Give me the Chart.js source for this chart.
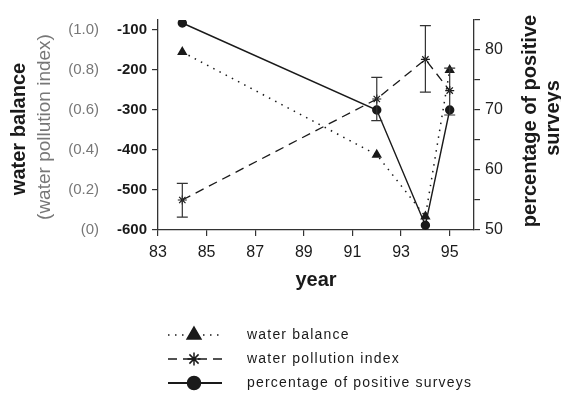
<!DOCTYPE html>
<html>
<head>
<meta charset="utf-8">
<script src="https://cdn.jsdelivr.net/npm/chart.js@4.4.1/dist/chart.umd.min.js"></script>
<style>
  html, body { margin: 0; padding: 0; background: #fff; }
  #wrap { width: 561px; height: 394px; }
</style>
</head>
<body>
<div id="wrap"><canvas id="c" width="561" height="394"></canvas></div>
<script>
// data
const years           = [84, 92, 94, 95];
const waterBalance    = [-155, -412, -566, -200];
const pollutionIndex  = [0.15, 0.655, 0.853, 0.697];
const pollutionLow    = [0.064, 0.547, 0.689, 0.575];
const pollutionHigh   = [0.233, 0.763, 1.022, 0.809];
const positiveSurveys = [84.5, 70, 50.8, 70];

// tick labels
const yearTicks      = [83, 85, 87, 89, 91, 93, 95];
const balanceTicks   = [-600, -500, -400, -300, -200, -100];
const indexTicks     = [0, 0.2, 0.4, 0.6, 0.8, 1.0];
const indexLabels    = ['(0)', '(0.2)', '(0.4)', '(0.6)', '(0.8)', '(1.0)'];
const surveyTicks    = [50, 55, 60, 65, 70, 75, 80, 85];

const FONT = "'Liberation Sans', Arial, Helvetica, sans-serif";
const INK = '#1a1a1a';
const AXIS = '#333';

/* ───────── error bars for the pollution index ───────── */
const errorBars = {
  id: 'errorBars',
  afterDatasetsDraw(chart) {
    const {ctx} = chart;
    const x = chart.scales.x, y = chart.scales.yIdx;
    ctx.save();
    ctx.strokeStyle = '#333';
    ctx.lineWidth = 1.2;
    years.forEach((yr, i) => {
      const px = x.getPixelForValue(yr);
      const lo = y.getPixelForValue(pollutionLow[i]);
      const hi = y.getPixelForValue(pollutionHigh[i]);
      ctx.beginPath();
      ctx.moveTo(px, lo); ctx.lineTo(px, hi);
      ctx.moveTo(px - 5.5, lo); ctx.lineTo(px + 5.5, lo);
      ctx.moveTo(px - 5.5, hi); ctx.lineTo(px + 5.5, hi);
      ctx.stroke();
    });
    ctx.restore();
  }
};

/* ───────── rotated axis titles + legend ───────── */
function vText(ctx, txt, x, y, font, color) {
  ctx.save();
  ctx.translate(x, y);
  ctx.rotate(-Math.PI / 2);
  ctx.font = font;
  ctx.fillStyle = color;
  ctx.textAlign = 'center';
  ctx.textBaseline = 'middle';
  ctx.fillText(txt, 0, 0);
  ctx.restore();
}

const extras = {
  id: 'extras',
  afterDraw(chart) {
    const {ctx} = chart;
    vText(ctx, 'water balance', 19, 129, 'bold 20px ' + FONT, INK);
    vText(ctx, '(water pollution index)', 45, 127, '19px ' + FONT, '#777');
    vText(ctx, 'percentage of positive', 530, 121, 'bold 20px ' + FONT, INK);
    vText(ctx, 'surveys', 553, 118, 'bold 20px ' + FONT, INK);

    // legend
    const rows = [335, 359, 383];
    const sizes = [8, 6.5, 6.5];
    chart.data.datasets.forEach((ds, i) => {
      const ly = rows[i];
      ctx.save();
      ctx.strokeStyle = ds.borderColor;
      ctx.lineWidth = i === 2 ? 2 : 1.5;
      ctx.setLineDash(ds.borderDash || []);
      ctx.beginPath();
      ctx.moveTo(168, ly); ctx.lineTo(222, ly);
      ctx.stroke();
      ctx.setLineDash([]);
      const opts = {pointStyle: ds.pointStyle, radius: sizes[i], rotation: 0, borderWidth: 1.5};
      ctx.fillStyle = ds.pointBackgroundColor;
      ctx.strokeStyle = ds.pointBorderColor;
      ctx.lineWidth = 1.5;
      if (Chart.helpers && Chart.helpers.drawPoint) {
        Chart.helpers.drawPoint(ctx, opts, 194, ly);
      }
      ctx.font = '14px ' + FONT;
      ctx.letterSpacing = '1.2px';
      ctx.fillStyle = INK;
      ctx.textAlign = 'left';
      ctx.textBaseline = 'middle';
      ctx.fillText(ds.label, 247, ly);
      ctx.restore();
    });
  }
};

function fixedTicks(values) {
  return scale => { scale.ticks = values.map(v => ({value: v})); };
}

new Chart(document.getElementById('c'), {
  type: 'line',
  data: {
    datasets: [
      {
        label: 'water balance',
        data: years.map((x, i) => ({x, y: waterBalance[i]})),
        yAxisID: 'y',
        borderColor: INK, borderWidth: 1.5, borderDash: [1.5, 5.5],
        pointStyle: 'triangle', pointRadius: 4.5,
        pointBackgroundColor: INK, pointBorderColor: INK
      },
      {
        label: 'water pollution index',
        data: years.map((x, i) => ({x, y: pollutionIndex[i]})),
        yAxisID: 'yIdx',
        borderColor: INK, borderWidth: 1.3, borderDash: [9, 6],
        pointStyle: 'star', pointRadius: 4.5, pointBorderWidth: 1.2,
        pointBackgroundColor: INK, pointBorderColor: INK
      },
      {
        label: 'percentage of positive surveys',
        data: years.map((x, i) => ({x, y: positiveSurveys[i]})),
        yAxisID: 'y2',
        borderColor: INK, borderWidth: 1.4,
        pointStyle: 'circle', pointRadius: 4,
        pointBackgroundColor: INK, pointBorderColor: INK
      }
    ]
  },
  options: {
    responsive: false,
    animation: false,
    layout: { padding: { top: 20, left: 0, right: 0, bottom: 0 } },
    plugins: { legend: { display: false }, tooltip: { enabled: false } },
    elements: { line: { tension: 0 } },
    scales: {
      x: {
        type: 'linear', min: 83, max: 96,
        afterBuildTicks: fixedTicks(yearTicks),
        afterFit: s => { s.height = 164; },
        grid: { drawOnChartArea: false, color: AXIS, tickLength: 6, lineWidth: 1.2 },
        border: { color: AXIS, width: 1.3 },
        ticks: { color: INK, font: { family: FONT, size: 16 }, padding: 7, maxRotation: 0 },
        title: { display: true, text: 'year', color: INK,
                 font: { family: FONT, size: 20, weight: 'bold' },
                 padding: { top: 0, bottom: 102 } }
      },
      y: {
        position: 'left', weight: 0,
        min: -600, max: -75,
        afterBuildTicks: fixedTicks(balanceTicks),
        afterFit: s => { s.width = 58; },
        grid: { drawOnChartArea: false, color: AXIS, tickLength: 6, lineWidth: 1.2 },
        border: { color: AXIS, width: 1.3 },
        ticks: { color: INK, font: { family: FONT, size: 15, weight: 'bold' }, padding: 5 }
      },
      yIdx: {
        position: 'left', weight: 1,
        min: 0, max: 1.05,
        afterBuildTicks: fixedTicks(indexTicks),
        afterFit: s => { s.width = 100; },
        grid: { display: false, drawTicks: false },
        border: { display: false },
        ticks: { color: '#777', font: { family: FONT, size: 15 }, padding: 1,
                 callback: (v, i) => indexLabels[i] }
      },
      y2: {
        position: 'right',
        min: 50, max: 85,
        afterBuildTicks: fixedTicks(surveyTicks),
        afterFit: s => { s.width = 87; },
        grid: { drawOnChartArea: false, color: AXIS, tickLength: 6, lineWidth: 1.2 },
        border: { color: AXIS, width: 1.3 },
        ticks: { color: '#222', font: { family: FONT, size: 16 }, padding: 5,
                 callback: v => (v % 10 === 0 ? String(v) : '') }
      }
    }
  },
  plugins: [errorBars, extras]
});
</script>
</body>
</html>
